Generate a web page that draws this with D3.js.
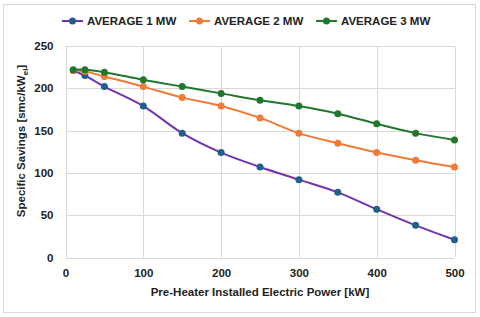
<!DOCTYPE html>
<html>
<head>
<meta charset="utf-8">
<script src="https://cdn.jsdelivr.net/npm/d3@7"></script>
<style>
  body { margin: 0; background: #fff; }
  text { font-family: "Liberation Sans", Arial, sans-serif; font-weight: bold; fill: #222; }
</style>
</head>
<body>
<svg id="chart" width="480" height="317"></svg>
<script>
'use strict';

// chart data
var powerKW = [10, 25, 50, 100, 150, 200, 250, 300, 350, 400, 450, 500];
var avg1MW = [221, 215, 202, 179, 147, 124, 107, 92, 77, 57, 38, 21];
var avg2MW = [221, 220, 214, 202, 189, 179, 165, 147, 135, 124, 115, 107];
var avg3MW = [222, 222, 219, 210, 202, 194, 186, 179, 170, 158, 147, 139];
var xTicks = [0, 100, 200, 300, 400, 500];
var yTicks = [0, 50, 100, 150, 200, 250];

var series = [
  { name: 'AVERAGE 1 MW', values: avg1MW, line: '#7532ae', dot: '#1f5f8b' },
  { name: 'AVERAGE 2 MW', values: avg2MW, line: '#f07b36', dot: '#f07b36' },
  { name: 'AVERAGE 3 MW', values: avg3MW, line: '#22772e', dot: '#22772e' }
];

var svg = d3.select('#chart');

// outer frame
svg.append('rect')
  .attr('x', 3.5).attr('y', 4.5)
  .attr('width', 472).attr('height', 308)
  .attr('fill', '#fff')
  .attr('stroke', '#d9d9d9');

var x = d3.scaleLinear().domain([0, 500]).range([65.5, 454.5]);
var y = d3.scaleLinear().domain([0, 250]).range([257.5, 46]);

// grid lines
svg.append('g').selectAll('line.h')
  .data(yTicks)
  .enter().append('line')
  .attr('x1', x(0)).attr('x2', x(500))
  .attr('y1', function (d) { return Math.round(y(d)) + 0.5; })
  .attr('y2', function (d) { return Math.round(y(d)) + 0.5; })
  .attr('stroke', '#d9d9d9').attr('stroke-width', 1);

svg.append('g').selectAll('line.v')
  .data(xTicks)
  .enter().append('line')
  .attr('y1', y(0)).attr('y2', y(250))
  .attr('x1', function (d) { return Math.round(x(d)) + 0.5; })
  .attr('x2', function (d) { return Math.round(x(d)) + 0.5; })
  .attr('stroke', '#d9d9d9').attr('stroke-width', 1);

// axes (lines hidden, labels only)
var xAxis = svg.append('g')
  .attr('transform', 'translate(0,' + y(0) + ')')
  .call(d3.axisBottom(x).tickValues(xTicks).tickSize(0).tickPadding(11));
xAxis.select('.domain').remove();
xAxis.selectAll('text').style('font-size', '11.5px');

var yAxis = svg.append('g')
  .attr('transform', 'translate(' + x(0) + ',0)')
  .call(d3.axisLeft(y).tickValues(yTicks).tickSize(0).tickPadding(12));
yAxis.select('.domain').remove();
yAxis.selectAll('text').style('font-size', '11.5px');

// axis titles
svg.append('text')
  .attr('x', 260).attr('y', 296)
  .attr('text-anchor', 'middle')
  .style('font-size', '11.5px')
  .text('Pre-Heater Installed Electric Power [kW]');

var yTitle = svg.append('text')
  .attr('transform', 'translate(25,141) rotate(-90)')
  .attr('text-anchor', 'middle')
  .style('font-size', '11.5px');
yTitle.append('tspan').text('Specific Savings [smc/kW');
yTitle.append('tspan').attr('dy', 3).style('font-size', '8px').text('el');
yTitle.append('tspan').attr('dy', -3).text(']');

// lines + markers
var line = d3.line()
  .x(function (d) { return x(d[0]); })
  .y(function (d) { return y(d[1]); })
  .curve(d3.curveCatmullRom.alpha(0.5));

series.forEach(function (s) {
  var pts = powerKW.map(function (p, i) { return [p, s.values[i]]; });
  svg.append('path')
    .attr('d', line(pts))
    .attr('fill', 'none')
    .attr('stroke', s.line)
    .attr('stroke-width', 2);
  svg.append('g').selectAll('circle')
    .data(pts)
    .enter().append('circle')
    .attr('cx', function (d) { return x(d[0]); })
    .attr('cy', function (d) { return y(d[1]); })
    .attr('r', 3.5)
    .attr('fill', s.dot);
});

// legend
var legendX = [62, 189, 316];
var legend = svg.append('g').selectAll('g')
  .data(series)
  .enter().append('g')
  .attr('transform', function (d, i) { return 'translate(' + legendX[i] + ',21)'; });

legend.append('line')
  .attr('x1', 0).attr('x2', 21)
  .attr('stroke', function (d) { return d.line; })
  .attr('stroke-width', 2);
legend.append('circle')
  .attr('cx', 10.5).attr('r', 3.5)
  .attr('fill', function (d) { return d.dot; });
legend.append('text')
  .attr('x', 25).attr('dy', '0.35em')
  .style('font-size', '11.5px')
  .text(function (d) { return d.name; });
</script>
</body>
</html>
